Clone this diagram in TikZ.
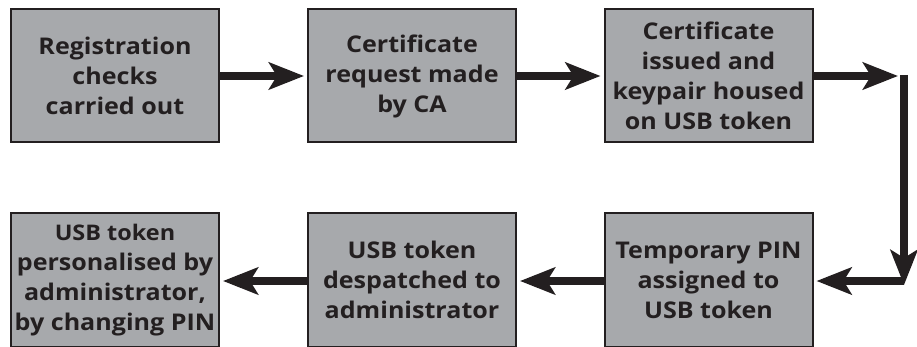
\documentclass[tikz,border=0pt]{standalone}
\usepackage{fontspec}
\setmainfont{Open Sans}[FakeStretch=1.09]
\usetikzlibrary{arrows.meta}
\definecolor{ink}{HTML}{231F20}
\definecolor{boxgray}{HTML}{A7A9AC}
\begin{document}
\begin{tikzpicture}[x=1pt,y=-1pt,
  stepbox/.style={draw=ink, line width=2pt, fill=boxgray, minimum width=208pt, minimum height=133pt,
    inner sep=0pt, align=center, text=ink, font=\fontsize{23}{30}\selectfont\bfseries},
  arr/.style={draw=ink, line width=8pt, -{Stealth[length=35pt,width=27pt,inset=8pt]}}]
\useasboundingbox (0,0) rectangle (917,347);
\node[stepbox] (b1) at (115,76) {Registration\\checks\\carried out};
\node[stepbox] (b2) at (412,76) {Certificate\\request made\\by CA};
\node[stepbox] (b3) at (708.5,76) {Certificate\\issued and\\keypair housed\\on USB token};
\node[stepbox] (b4) at (115,280) {\fontsize{21.5}{27.5}\selectfont USB token\\personalised by\\administrator,\\by changing PIN};
\node[stepbox] (b5) at (412,280) {USB token\\despatched to\\administrator};
\node[stepbox] (b6) at (708.5,280) {Temporary PIN\\assigned to\\USB token};
\coordinate (c1) at (904,75);
\coordinate (c2) at (904,285);
\coordinate (c3) at (904,281);
\draw[arr] (b1.east) -- ([xshift=-3pt]b2.west);
\draw[arr] (b2.east) -- ([xshift=-3pt]b3.west);
\draw[arr] (b3.east) -- ([xshift=-6pt]c1 |- b3.east);
\draw[arr] (c1) -- (c2);
\draw[arr] (c3) -- ([xshift=3pt]b6.east |- c3);
\draw[arr] (b6.west |- c3) -- ([xshift=3pt]b5.east |- c3);
\draw[arr] (b5.west |- c3) -- ([xshift=3pt]b4.east |- c3);
\end{tikzpicture}
\end{document}
